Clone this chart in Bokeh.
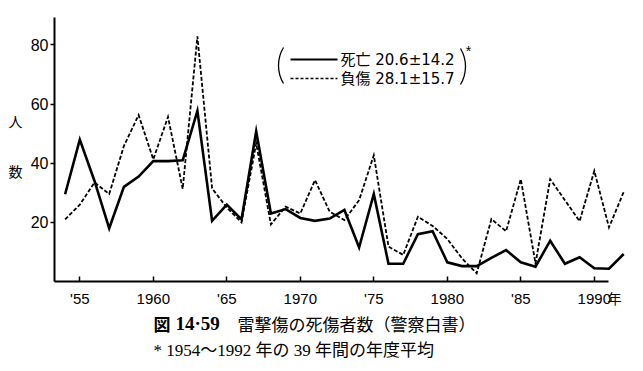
import math
from bokeh.plotting import figure
from bokeh.models import Label, FixedTicker
from bokeh.embed import file_html
from bokeh.resources import INLINE

# ---------------- data ----------------
years = list(range(1954, 1993))
deaths = [29.5, 48.0, 34.0, 18.0, 32.0, 35.5, 40.7, 40.7, 41.0, 57.7,
          20.5, 26.0, 21.0, 50.8, 23.0, 24.5, 21.5, 20.5, 21.3, 24.2,
          11.5, 29.6, 6.0, 6.0, 16.0, 17.0, 6.5, 5.2, 5.2, 8.0,
          10.6, 6.5, 5.0, 13.8, 6.0, 8.2, 4.5, 4.3, 9.3]
injuries = [21.0, 26.0, 33.5, 29.6, 45.8, 56.3, 41.3, 55.7, 31.3, 82.9,
            31.5, 25.0, 20.0, 46.7, 19.3, 25.3, 23.0, 34.3, 23.6, 20.8,
            27.5, 42.7, 11.8, 9.0, 21.9, 18.8, 14.4, 7.8, 2.8, 21.1,
            17.0, 34.6, 6.1, 34.6, 27.5, 20.4, 37.4, 18.3, 30.3]

x_ticks = [1955, 1960, 1965, 1970, 1975, 1980, 1985, 1990]
x_tick_labels = ["'55", "1960", "'65", "1970", "'75", "1980", "'85", "1990"]
y_ticks = [20, 40, 60, 80]

legend_labels = ["死亡 20.6±14.2", "負傷 28.1±15.7"]
caption_fig = "図"
caption_num = "14·59"
caption_title = "雷撃傷の死傷者数（警察白書）"
footnote = "* 1954～1992 年の 39 年間の年度平均"
y_label_chars = ["人", "数"]
x_unit = "年"

# ---------------- layout ----------------
W, H = 641, 369
PX_PER_YEAR = 14.7
PX_PER_UNIT = 2.957
YEAR_REF, YEAR_REF_PX = 1955, 79.3
ZERO_PX = 281.0

X_START = YEAR_REF - YEAR_REF_PX / PX_PER_YEAR
X_END = X_START + W / PX_PER_YEAR
Y_END = ZERO_PX / PX_PER_UNIT
Y_START = Y_END - H / PX_PER_UNIT


def dx(px):
    return X_START + px / PX_PER_YEAR


def dy(py):
    return Y_END - py / PX_PER_UNIT


AX_LEFT = dx(54)
AX_RIGHT = dx(608)
AX_TOP = dy(17)

NARROW = "'Liberation Sans Narrow', 'Liberation Sans', sans-serif"
CJK = "'Noto Sans CJK JP', sans-serif"
LEG = "'DejaVu Sans', 'Noto Sans CJK JP', sans-serif"
SERIF = "'Liberation Serif', 'Noto Sans CJK JP', serif"

p = figure(width=W, height=H, x_range=(X_START, X_END), y_range=(Y_START, Y_END),
           output_backend="svg", toolbar_location=None,
           min_border=0, min_border_left=0, min_border_right=0,
           min_border_top=0, min_border_bottom=0)
p.title.visible = False
p.outline_line_color = None
p.grid.visible = False
p.background_fill_color = "white"
p.border_fill_color = "white"

# axes (placed at fixed data locations inside the full-canvas frame)
p.xaxis.fixed_location = 0
p.xaxis.ticker = FixedTicker(ticks=x_ticks)
p.xaxis.major_label_overrides = dict(zip(x_ticks, x_tick_labels))
p.xaxis.bounds = (AX_LEFT, AX_RIGHT)
p.xaxis.major_tick_in = 5
p.xaxis.major_tick_out = 0
p.xaxis.minor_tick_line_color = None
p.xaxis.axis_line_width = 2
p.xaxis.major_tick_line_width = 1.5
p.xaxis.major_label_text_font = NARROW
p.xaxis.major_label_text_font_size = "15px"
p.xaxis.major_label_text_color = "black"
p.xaxis.major_label_standoff = 8

p.yaxis.fixed_location = AX_LEFT
p.yaxis.ticker = FixedTicker(ticks=y_ticks)
p.yaxis.bounds = (0, AX_TOP)
p.yaxis.major_tick_in = 0
p.yaxis.major_tick_out = 4
p.yaxis.minor_tick_line_color = None
p.yaxis.axis_line_width = 2
p.yaxis.major_tick_line_width = 1.5
p.yaxis.major_label_text_font = NARROW
p.yaxis.major_label_text_font_size = "16px"
p.yaxis.major_label_text_color = "black"
p.yaxis.major_label_standoff = 2

# series
p.line(years, deaths, line_color="black", line_width=2.6, line_join="miter")
p.line(years, injuries, line_color="black", line_width=1.8,
       line_dash="4 2", line_join="miter")

# legend (manual, with parentheses)
p.line([dx(290), dx(337)], [dy(59), dy(59)], line_color="black", line_width=1.8)
p.line([dx(290), dx(337)], [dy(78), dy(78)], line_color="black", line_width=1.6,
       line_dash="3 2")
for txt, py in zip(legend_labels, [59, 78]):
    p.add_layout(Label(x=dx(340), y=dy(py), text=txt, text_font=LEG,
                       text_font_size="15px", text_baseline="middle",
                       text_align="left", text_color="black"))
p.arc(x=[dx(313)], y=[dy(65)], radius=35, radius_units="screen",
      start_angle=math.radians(149), end_angle=math.radians(211),
      line_color="black", line_width=1.3)
p.arc(x=[dx(430)], y=[dy(66)], radius=35, radius_units="screen",
      start_angle=math.radians(-31), end_angle=math.radians(31),
      line_color="black", line_width=1.3)
p.add_layout(Label(x=dx(468), y=dy(50), text="*", text_font=NARROW,
                   text_font_size="14px", text_baseline="middle",
                   text_align="center", text_color="black"))

# y-axis label characters
for ch, py in zip(y_label_chars, [120, 170]):
    p.add_layout(Label(x=dx(15), y=dy(py), text=ch, text_font=CJK,
                       text_font_size="14px", text_baseline="middle",
                       text_align="center", text_color="black"))

# x unit
p.add_layout(Label(x=dx(607), y=dy(297), text=x_unit, text_font=CJK,
                   text_font_size="14px", text_baseline="middle",
                   text_align="left", text_color="black"))

# caption
p.add_layout(Label(x=dx(153), y=dy(323), text=caption_fig, text_font=CJK,
                   text_font_size="17px", text_font_style="bold",
                   text_baseline="middle", text_align="left", text_color="black"))
p.add_layout(Label(x=dx(175), y=dy(323), text=caption_num, text_font=SERIF,
                   text_font_size="19px", text_font_style="bold",
                   text_baseline="middle", text_align="left", text_color="black"))
p.add_layout(Label(x=dx(237), y=dy(323), text=caption_title, text_font=CJK,
                   text_font_size="17px", text_baseline="middle",
                   text_align="left", text_color="black"))
p.add_layout(Label(x=dx(153), y=dy(350), text=footnote, text_font=SERIF,
                   text_font_size="17px", text_baseline="middle",
                   text_align="left", text_color="black"))

open("out.html", "w").write(file_html(p, INLINE))
